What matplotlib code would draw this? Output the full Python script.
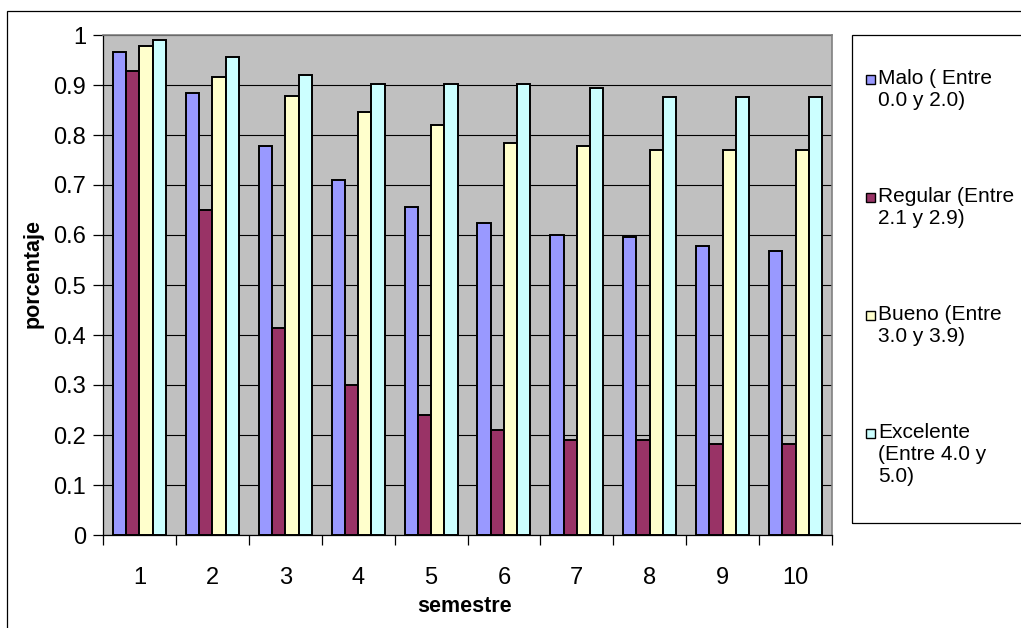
import numpy as np
import matplotlib.pyplot as plt
from matplotlib.patches import Rectangle

plt.rcParams['font.family'] = ['Liberation Sans', 'DejaVu Sans']

# data
semestres = ["1", "2", "3", "4", "5", "6", "7", "8", "9", "10"]
malo = [0.967, 0.885, 0.779, 0.710, 0.657, 0.625, 0.600, 0.596, 0.579, 0.569]
regular = [0.928, 0.650, 0.414, 0.301, 0.240, 0.211, 0.190, 0.190, 0.183, 0.183]
bueno = [0.978, 0.917, 0.878, 0.846, 0.821, 0.785, 0.778, 0.771, 0.771, 0.771]
excelente = [0.991, 0.956, 0.921, 0.903, 0.903, 0.903, 0.895, 0.877, 0.877, 0.877]
series_labels = ["Malo ( Entre\n0.0 y 2.0)", "Regular (Entre\n2.1 y 2.9)",
                 "Bueno (Entre\n3.0 y 3.9)", "Excelente\n(Entre 4.0 y\n5.0)"]
colors = ["#9999FF", "#993366", "#FFFFCC", "#CCFFFF"]
y_ticks = ["0", "0.1", "0.2", "0.3", "0.4", "0.5", "0.6", "0.7", "0.8", "0.9", "1"]

W, H = 1021, 628


def fx(px):
    return px / W


def fy(py):
    return 1 - py / H


fig = plt.figure(figsize=(W / 100, H / 100), dpi=100)
fig.patch.set_facecolor("white")

# outer chart border (runs off the bottom/right of the picture)
fig.add_artist(Rectangle((fx(7), -0.1), 1.2, fy(11) + 0.1, transform=fig.transFigure,
                         fill=False, edgecolor="black", linewidth=0.9))

ax = fig.add_axes([fx(103), fy(535), fx(832) - fx(103), fy(35) - fy(535)])
ax.set_facecolor("#C0C0C0")

x = np.arange(1, len(semestres) + 1)
width = 1 / 5.5
for i, (vals, col) in enumerate(zip([malo, regular, bueno, excelente], colors)):
    ax.bar(x + (i - 1.5) * width, vals, width, color=col, edgecolor="black",
           linewidth=1.4, zorder=3)

ax.set_xlim(0.5, len(semestres) + 0.5)
ax.set_ylim(0, 1)
ax.set_yticks(np.linspace(0, 1, 11))
ax.set_yticklabels(y_ticks, fontsize=17)
ax.yaxis.grid(True, color="black", linewidth=0.8, zorder=0)
ax.set_axisbelow(True)

ax.set_xticks(np.arange(0.5, len(semestres) + 1, 1))
ax.set_xticklabels([])
ax.set_xticks(x, minor=True)
ax.set_xticklabels(semestres, minor=True, fontsize=17)
ax.tick_params(axis="x", which="major", length=7, width=0.9, direction="out")
ax.tick_params(axis="x", which="minor", length=0, pad=23)
ax.tick_params(axis="y", length=7, width=0.9, direction="out", pad=5)

for s in ["top", "right"]:
    ax.spines[s].set_color("#808080")
    ax.spines[s].set_linewidth(1.2)
for s in ["left", "bottom"]:
    ax.spines[s].set_color("black")
    ax.spines[s].set_linewidth(0.9)

fig.text(fx(33), fy(273), "porcentaje", rotation=90, fontsize=15.5,
         fontweight="bold", ha="center", va="center")
fig.text(fx(465), fy(606), "semestre", fontsize=15.5, fontweight="bold",
         ha="center", va="center")

# legend box
fig.add_artist(Rectangle((fx(852), fy(523)), 0.3, fy(35) - fy(523),
                         transform=fig.transFigure, fill=False,
                         edgecolor="black", linewidth=0.9))
for i, (lab, col) in enumerate(zip(series_labels, colors)):
    yc = 80 + i * 118
    fig.add_artist(Rectangle((fx(866), fy(yc + 4)), fx(9), fy(yc - 5) - fy(yc + 4),
                             transform=fig.transFigure, facecolor=col,
                             edgecolor="black", linewidth=1.0))
    fig.text(fx(878), fy(yc - 11), lab, fontsize=15, ha="left", va="top",
             linespacing=1.2)

fig.savefig("out.png", dpi=100)
